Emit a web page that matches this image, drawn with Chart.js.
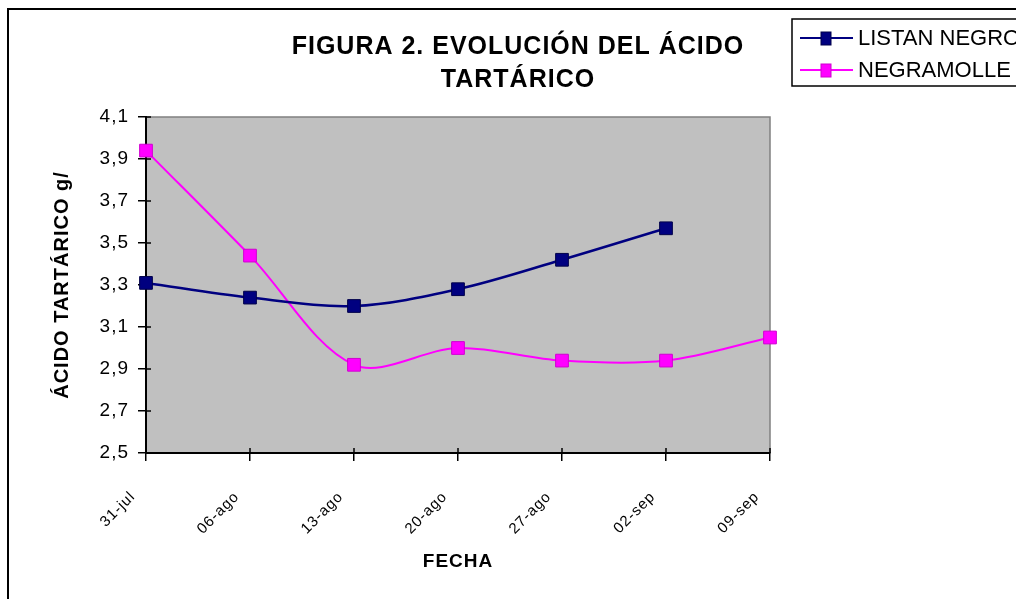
<!DOCTYPE html>
<html>
<head>
<meta charset="utf-8">
<script src="https://cdn.jsdelivr.net/npm/chart.js@4.4.1/dist/chart.umd.min.js"></script>
<style>
  html, body { margin: 0; padding: 0; background: #fff; }
  canvas { display: block; }
</style>
</head>
<body>
<canvas id="myChart" width="1016" height="599"></canvas>
<script>
  // valores
  const fechas = ['31-jul', '06-ago', '13-ago', '20-ago', '27-ago', '02-sep', '09-sep'];
  const listanNegro = [3.31, 3.24, 3.20, 3.28, 3.42, 3.57, null];
  const negramolle = [3.94, 3.44, 2.92, 3.00, 2.94, 2.94, 3.05];
  const tituloLineas = ['FIGURA 2. EVOLUCIÓN DEL ÁCIDO', 'TARTÁRICO'];

  const FONT = 'Arial, "Liberation Sans", sans-serif';

  // fondo gris, borde exterior, titulo y leyenda
  const decoPlugin = {
    id: 'deco',
    beforeDraw(chart) {
      const ctx = chart.ctx;
      const a = chart.chartArea;
      ctx.save();
      ctx.fillStyle = '#fff';
      ctx.fillRect(0, 0, chart.width, chart.height);
      ctx.strokeStyle = '#000';
      ctx.lineWidth = 2;
      ctx.strokeRect(8, 9, 1200, 800);
      ctx.fillStyle = '#c0c0c0';
      ctx.fillRect(a.left, a.top, a.right - a.left, a.bottom - a.top);
      ctx.strokeStyle = '#808080';
      ctx.lineWidth = 1.5;
      ctx.strokeRect(a.left, a.top, a.right - a.left, a.bottom - a.top);
      ctx.restore();
      // texto de ejes un poco mas espaciado, como en Excel
      ctx.letterSpacing = '1px';
    },
    beforeDatasetsDraw(chart) {
      // parte interior de las marcas de graduacion
      const ctx = chart.ctx;
      const xs = chart.scales.x, ys = chart.scales.y;
      ctx.save();
      ctx.strokeStyle = '#000';
      ctx.lineWidth = 1.5;
      ctx.beginPath();
      ys.ticks.forEach((t) => {
        const y = ys.getPixelForValue(t.value);
        ctx.moveTo(xs.left, y);
        ctx.lineTo(xs.left + 5, y);
      });
      xs.ticks.forEach((t, i) => {
        const x = xs.getPixelForTick(i);
        ctx.moveTo(x, ys.bottom);
        ctx.lineTo(x, ys.bottom - 5);
      });
      ctx.stroke();
      ctx.restore();
    },
    afterDraw(chart) {
      const ctx = chart.ctx;
      ctx.save();
      // titulo
      ctx.fillStyle = '#000';
      ctx.font = 'bold 25px ' + FONT;
      ctx.letterSpacing = '1px';
      ctx.textAlign = 'center';
      ctx.textBaseline = 'middle';
      ctx.fillText(tituloLineas[0], 518, 47);
      ctx.fillText(tituloLineas[1], 518, 80);
      // leyenda
      ctx.letterSpacing = '0px';
      ctx.strokeStyle = '#000';
      ctx.lineWidth = 1.5;
      ctx.strokeRect(792, 19, 300, 67);
      ctx.font = '22px ' + FONT;
      ctx.textAlign = 'left';
      chart.data.datasets.forEach((ds, i) => {
        const y = 38 + i * 32;
        ctx.strokeStyle = ds.borderColor;
        ctx.lineWidth = 2;
        ctx.beginPath();
        ctx.moveTo(800, y);
        ctx.lineTo(853, y);
        ctx.stroke();
        ctx.fillStyle = ds.backgroundColor;
        ctx.fillRect(821, y - 6, 10, 13);
        ctx.strokeStyle = ds.pointBorderColor;
        ctx.lineWidth = 1;
        ctx.strokeRect(821, y - 6, 10, 13);
        ctx.fillStyle = '#000';
        ctx.fillText(ds.label, 858, y + 1);
      });
      ctx.restore();
    }
  };

  const ctx = document.getElementById('myChart');
  const myChart = new Chart(ctx, {
    type: 'line',
    data: {
      labels: fechas,
      datasets: [{
        label: 'LISTAN NEGRO',
        data: listanNegro,
        borderColor: '#000080',
        backgroundColor: '#000080',
        pointBorderColor: '#00004a',
        borderWidth: 2.5,
        pointStyle: 'rect',
        pointRadius: 9,
        pointBorderWidth: 1,
        tension: 0.33
      }, {
        label: 'NEGRAMOLLE',
        data: negramolle,
        borderColor: '#ff00ff',
        backgroundColor: '#ff00ff',
        pointBorderColor: '#d000d0',
        borderWidth: 2,
        pointStyle: 'rect',
        pointRadius: 9,
        pointBorderWidth: 1,
        tension: 0.33
      }]
    },
    options: {
      responsive: false,
      animation: false,
      layout: { padding: { left: 0, top: 117, right: 246, bottom: 0 } },
      plugins: {
        legend: { display: false },
        title: { display: false },
        tooltip: { enabled: false }
      },
      scales: {
        x: {
          type: 'category',
          offset: false,
          afterFit(scale) { scale.height = 146; },
          border: { color: '#000', width: 2 },
          grid: { display: true, drawOnChartArea: false, drawTicks: true, tickLength: 8, color: '#000', lineWidth: 1.5, offset: false },
          ticks: {
            color: '#000',
            font: { family: FONT, size: 15 },
            minRotation: 45,
            maxRotation: 45,
            padding: 27,
            labelOffset: -13,
            autoSkip: false
          },
          title: {
            display: true,
            text: 'FECHA',
            color: '#000',
            font: { family: FONT, size: 19, weight: 'bold' },
            padding: { top: 0, bottom: 26 }
          }
        },
        y: {
          min: 2.5,
          max: 4.1,
          afterFit(scale) { scale.width = 146; },
          afterBuildTicks(scale) {
            const t = [];
            for (let i = 0; i <= 8; i++) t.push({ value: Math.round((2.5 + i * 0.2) * 10) / 10 });
            scale.ticks = t;
          },
          border: { color: '#000', width: 2 },
          grid: { display: true, drawOnChartArea: false, drawTicks: true, tickLength: 8, color: '#000', lineWidth: 1.5 },
          ticks: {
            color: '#000',
            font: { family: FONT, size: 19 },
            padding: 9,
            callback: (v) => v.toFixed(1).replace('.', ',')
          },
          title: {
            display: true,
            text: 'ÁCIDO TARTÁRICO g/',
            color: '#000',
            font: { family: FONT, size: 20, weight: 'bold' },
            padding: { top: 50, bottom: 0 }
          }
        }
      }
    },
    plugins: [decoPlugin]
  });
</script>
</body>
</html>
